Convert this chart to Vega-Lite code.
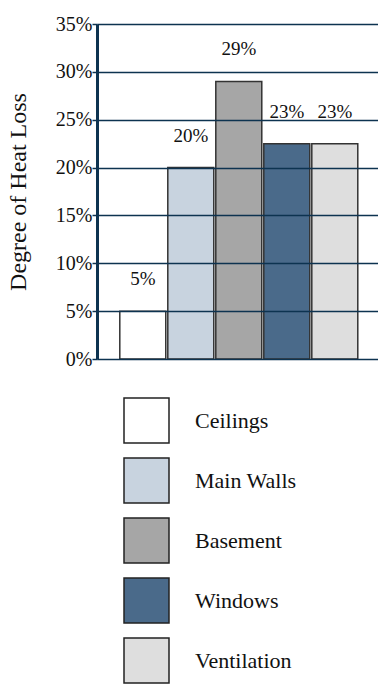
{
  "$schema": "https://vega.github.io/schema/vega-lite/v6.json",
  "autosize": "none",
  "width": 281,
  "height": 335,
  "padding": {"left": 97, "top": 24, "right": 0, "bottom": 327},
  "background": "white",
  "config": {"view": {"stroke": null}, "font": "Liberation Serif"},
  "data": {"values": [
    {"category": "Ceilings", "value": 0.05, "label": "5%"},
    {"category": "Main Walls", "value": 0.20, "label": "20%"},
    {"category": "Basement", "value": 0.29, "label": "29%"},
    {"category": "Windows", "value": 0.225, "label": "23%"},
    {"category": "Ventilation", "value": 0.225, "label": "23%"}
  ]},
  "encoding": {
    "x": {"field": "category", "type": "nominal", "sort": null,
      "scale": {"paddingInner": 0.042, "paddingOuter": 0.448, "align": 0.53},
      "axis": null},
    "y": {"field": "value", "type": "quantitative",
      "scale": {"domain": [0, 0.35]},
      "axis": {"title": "Degree of Heat Loss", "titleFontSize": 24, "titleFontWeight": "normal", "titleColor": "#111", "titlePadding": 25,
        "format": ".0%", "values": [0, 0.05, 0.1, 0.15, 0.2, 0.25, 0.3, 0.35],
        "labelFontSize": 20, "labelColor": "#111", "labelPadding": 0,
        "tickSize": 5, "tickColor": "#0d3350", "tickWidth": 1.5,
        "domainColor": "#0d3350", "domainWidth": 3,
        "grid": true, "gridColor": "#0d3350", "gridWidth": 1.5, "zindex": 1}}
  },
  "layer": [
    {"mark": {"type": "bar", "stroke": "#333333", "strokeWidth": 1.5},
     "encoding": {"color": {"field": "category", "type": "nominal", "sort": null,
       "scale": {"domain": ["Ceilings", "Main Walls", "Basement", "Windows", "Ventilation"],
                 "range": ["#ffffff", "#c8d3df", "#a6a6a6", "#4a6a8a", "#dedede"]},
       "legend": {"title": null, "orient": "none", "legendX": 26, "legendY": 373, "direction": "vertical",
         "symbolType": "square", "symbolSize": 2025, "symbolStrokeColor": "#222", "symbolStrokeWidth": 1.5,
         "symbolOpacity": 1, "labelFontSize": 22, "labelColor": "#111", "labelOffset": 25, "rowPadding": 9,
         "labelLimit": 300}}}},
    {"mark": {"type": "text", "fontSize": 19, "dy": -32, "baseline": "middle", "color": "#111"},
     "encoding": {"text": {"field": "label"}}}
  ]
}
